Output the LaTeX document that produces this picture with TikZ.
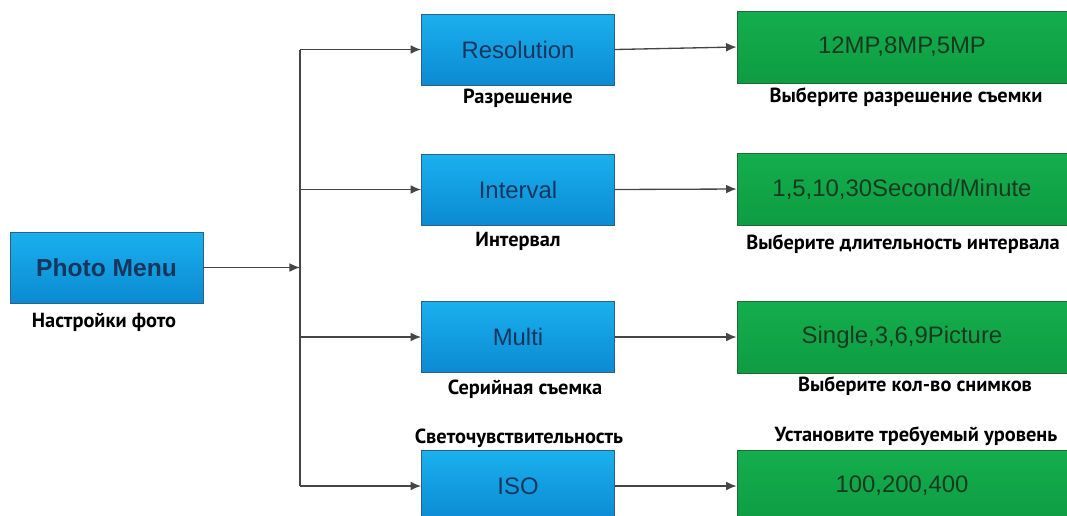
\documentclass[tikz,border=0pt]{standalone}
\usepackage{fontspec}
\setmainfont{Liberation Sans}
\newfontfamily\lblfont{PT Sans}
\usepackage{xcolor}
\usetikzlibrary{arrows.meta}

\definecolor{boxtop}{HTML}{1AB0EE}
\definecolor{boxbot}{HTML}{0B8AD2}
\definecolor{boxline}{HTML}{2F5F85}
\definecolor{boxtext}{HTML}{17365E}
\definecolor{valtop}{HTML}{14AE4E}
\definecolor{valbot}{HTML}{0E9C42}
\definecolor{valline}{HTML}{1E6A34}
\definecolor{valtext}{HTML}{173A1F}
\definecolor{wire}{HTML}{454545}

\begin{document}
\begin{tikzpicture}[x=0.02cm, y=-0.02cm,
  menubox/.style={draw=boxline, line width=0.5pt, top color=boxtop, bottom color=boxbot,
    minimum width=3.86cm, minimum height=1.42cm, inner sep=0pt, text=boxtext,
    font=\fontsize{13.6}{15}\selectfont},
  valbox/.style={draw=valline, line width=0.5pt, top color=valtop, bottom color=valbot,
    minimum width=6.6cm, minimum height=1.44cm, inner sep=0pt, text=valtext,
    font=\fontsize{13.6}{15}\selectfont},
  lbl/.style={font=\lblfont\bfseries\fontsize{11.6}{13}\selectfont, inner sep=0pt},
  wireline/.style={draw=wire, line width=0.75pt},
  arr/.style={wireline, -{Latex[length=6pt, width=5pt]}}]
\clip (0,0) rectangle (1067,515);

% Main box
\node[menubox, font=\bfseries\fontsize{14}{16}\selectfont] (menu) at (106.5,267.5) {Photo Menu};
\node[lbl] (menulbl) at (104,322) {Настройки фото};

% Settings
\node[menubox] (res) at (518,49.5) {Resolution};
\node[menubox] (int) at (518,189.5) {Interval};
\node[menubox] (mul) at (518,337) {Multi};
\node[menubox] (iso) at (518,486) {ISO};

\node[lbl] (reslbl) at (518,98) {Разрешение};
\node[lbl] (intlbl) at (518,241) {Интервал};
\node[lbl] (mullbl) at (525,389) {Серийная съемка};
\node[lbl] (isolbl) at (519,438) {Светочувствительность};

% Values
\node[valbox] (resval) at (902,47) {12MP,8MP,5MP};
\node[valbox] (intval) at (902,189) {1,5,10,30Second/Minute};
\node[valbox] (mulval) at (902,337) {Single,3,6,9Picture};
\node[valbox] (isoval) at (902,486) {100,200,400};

\node[lbl] (resvallbl) at (906,97) {Выберите разрешение съемки};
\node[lbl] (intvallbl) at (903,244) {Выберите длительность интервала};
\node[lbl] (mulvallbl) at (915,386) {Выберите кол-во снимков};
\node[lbl] (isovallbl) at (916,436) {Установите требуемый уровень};

% Trunk
\coordinate (ttop) at (300,49.5);
\coordinate (tbot) at (300,486);
\draw[wireline] (ttop) -- (tbot);
\draw[arr] (menu.east) -- (menu.east -| ttop);

% Branches
\draw[arr] (res.west -| ttop) -- (res.west);
\draw[arr] (int.west -| ttop) -- (int.west);
\draw[arr] (mul.west -| ttop) -- (mul.west);
\draw[arr] (iso.west -| ttop) -- (iso.west);

\draw[arr] (res.east) -- (resval.west);
\draw[arr] (int.east) -- (intval.west);
\draw[arr] (mul.east) -- (mulval.west);
\draw[arr] (iso.east) -- (isoval.west);
\end{tikzpicture}
\end{document}
